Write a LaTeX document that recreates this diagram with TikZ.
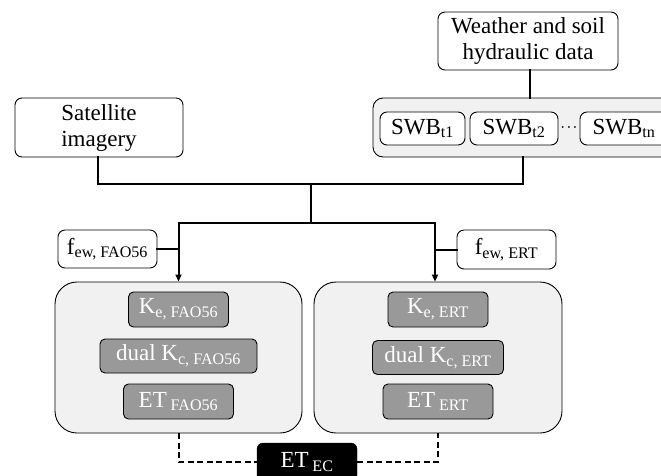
\documentclass[tikz,border=0pt]{standalone}
\usepackage{fontspec}
\setmainfont{Liberation Serif}
\usetikzlibrary{arrows.meta}
\definecolor{lightbg}{RGB}{241,241,241}
\definecolor{midgray}{RGB}{153,153,153}
\tikzset{
  whitebox/.style={draw=black, line width=0.9pt, rounded corners=7pt, fill=white, inner sep=0pt, align=center, font=\fontsize{23}{26}\selectfont},
  container/.style={draw=black, line width=0.9pt, rounded corners=22pt, fill=lightbg, inner sep=0pt},
  swbcont/.style={draw=black, line width=0.9pt, rounded corners=10pt, fill=lightbg, inner sep=0pt},
  graybox/.style={draw=black, line width=0.9pt, rounded corners=5pt, fill=midgray, text=white, inner sep=0pt, font=\fontsize{23}{26}\selectfont},
  blackbox/.style={draw=black, rounded corners=6pt, fill=black, text=white, inner sep=0pt, font=\fontsize{23}{26}\selectfont},
  conn/.style={line width=2pt, line cap=rect},
  arr/.style={line width=2pt, -{Triangle[length=7pt,width=6pt]}},
  dashconn/.style={line width=2pt, dash pattern=on 6pt off 3.5pt}
}
\newcommand{\sbs}[1]{\textsubscript{#1}}
\begin{document}
\begin{tikzpicture}[x=1pt,y=-1pt]
\clip (0,0) rectangle (661,475);
\fill[white] (0,0) rectangle (661,475);
% top boxes
\node[whitebox, minimum width=168pt, minimum height=59pt] (sat) at (99,127.5) {Satellite\\imagery};
\node[whitebox, minimum width=180pt, minimum height=58pt] (wea) at (528,41) {Weather and soil\\hydraulic data};
\node[swbcont, minimum width=312pt, minimum height=59pt] (swbc) at (529,127.5) {};
\node[whitebox, minimum width=85pt, minimum height=33pt] (swb1) at (422.5,128.5) {SWB\sbs{t1}};
\node[whitebox, minimum width=88pt, minimum height=33pt] (swb2) at (514,128.5) {SWB\sbs{t2}};
\node[inner sep=0pt, font=\boldmath\fontsize{12}{12}\selectfont] (dots) at (569,127.5) {$\cdots$};
\node[whitebox, minimum width=88pt, minimum height=33pt] (swbn) at (624,128.5) {SWB\sbs{tn}};
% f_ew boxes
\node[whitebox, minimum width=99pt, minimum height=38pt] (fF) at (107.5,249) {f\sbs{ew, FAO56}};
\node[whitebox, minimum width=99pt, minimum height=39pt] (fE) at (506.5,249.5) {f\sbs{ew, ERT}};
% containers
\node[container, minimum width=247pt, minimum height=151pt] (cL) at (178.5,357.5) {};
\node[container, minimum width=248pt, minimum height=151pt] (cR) at (438,357.5) {};
\node[graybox, minimum width=100pt, minimum height=35pt] (keF) at (178.5,309.5) {K\sbs{e, FAO56}};
\node[graybox, minimum width=157pt, minimum height=34pt] (kcF) at (178.5,356) {dual K\sbs{c, FAO56}};
\node[graybox, minimum width=110pt, minimum height=35pt] (etF) at (178.5,401.5) {ET\,\sbs{FAO56}};
\node[graybox, minimum width=100pt, minimum height=35pt] (keE) at (438,309.5) {K\sbs{e, ERT}};
\node[graybox, minimum width=131pt, minimum height=34pt] (kcE) at (438,357.5) {dual K\sbs{c, ERT}};
\node[graybox, minimum width=110pt, minimum height=35pt] (etE) at (438,401.5) {ET\,\sbs{ERT}};
\node[blackbox, minimum width=100pt, minimum height=38pt] (etec) at (307,462) {ET\,\sbs{EC}};
% coordinates
\coordinate (j1) at (98,184);
\coordinate (j2) at (523,184);
\coordinate (j3) at (311,184);
\coordinate (j4) at (311,223);
\coordinate (aL) at (178.5,223);
\coordinate (aR) at (435,223);
% connectors
\draw[conn] (wea.south -| 530,0) -- (swbc.north -| 530,0);
\draw[conn] (sat.south -| j1) -- (j1) -- (j2) -- (swbc.south -| j2);
\draw[conn] (j3) -- (j4);
\draw[conn] (aL) -- (aR);
\draw[arr] (aL) -- (cL.north -| aL);
\draw[arr] (aR) -- (cR.north -| aR);
\draw[conn] (fF.east) -- (fF.east -| aL);
\draw[conn] (fE.west) -- (fE.west -| aR);
\draw[dashconn] (cL.south) |- (etec.west);
\draw[dashconn] (etec.east) -| (cR.south);
\end{tikzpicture}
\end{document}
